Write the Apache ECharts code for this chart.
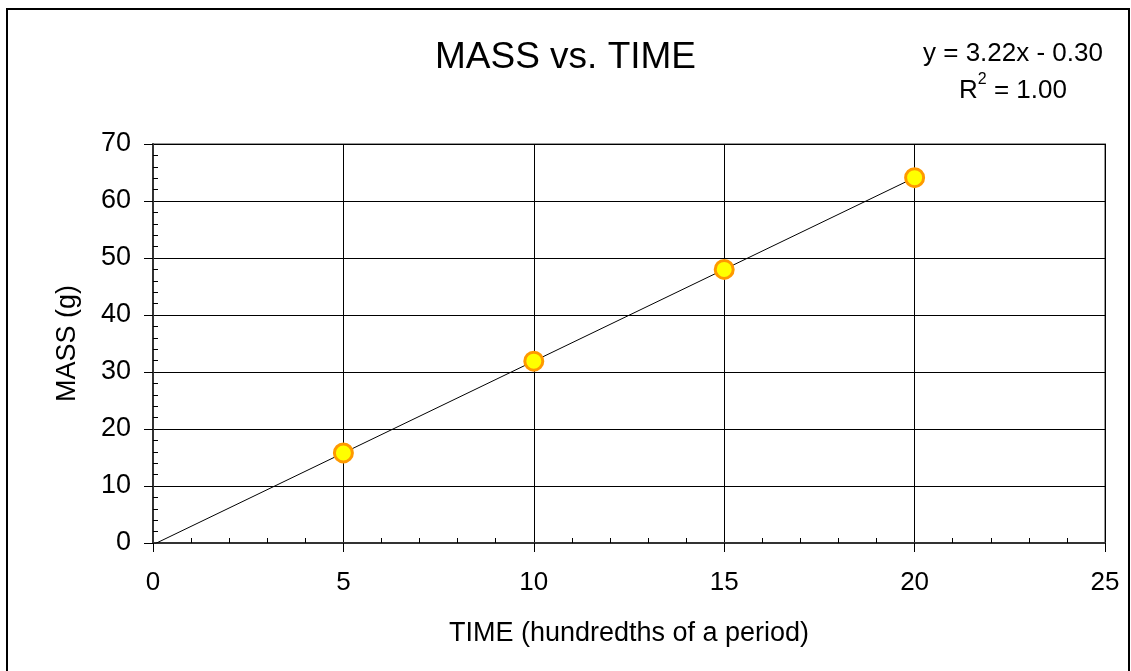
<!DOCTYPE html>
<html>
<head>
<meta charset="utf-8">
<script src="https://cdn.jsdelivr.net/npm/echarts@6/dist/echarts.min.js"></script>
<style>
html,body{margin:0;padding:0;background:#fff;}
#chart{width:1131px;height:671px;}
</style>
</head>
<body>
<div id="chart"></div>
<script>
// Data
const timeValues = [5, 10, 15, 20];
const massValues = [15.8, 31.9, 48.0, 64.1];
// Linear trendline end points (x, y) as shown
const trendX = [0, 20];
const trendY = [-0.30, 64.1];
const chartTitle = 'MASS vs. TIME';
const xAxisName = 'TIME (hundredths of a period)';
const yAxisName = 'MASS (g)';
const eqLine = 'y = 3.22x - 0.30';
const r2Value = '1.00';

const FONT = '"Liberation Sans", Arial, sans-serif';

const chart = echarts.init(document.getElementById('chart'));
const option = {
  backgroundColor: '#fff',
  animation: false,
  title: {
    text: chartTitle,
    left: 'center',
    top: 34,
    textStyle: { fontFamily: FONT, fontSize: 37, fontWeight: 'normal', color: '#000' }
  },
  grid: {
    left: 153, right: 26, top: 144, bottom: 128,
    show: true, borderColor: '#999', borderWidth: 2, backgroundColor: 'transparent'
  },
  xAxis: {
    type: 'value', min: 0, max: 25, interval: 5,
    name: xAxisName, nameLocation: 'middle', nameGap: 77,
    nameTextStyle: { fontFamily: FONT, fontSize: 27, color: '#000' },
    axisLine: { show: true, onZero: false, lineStyle: { color: '#333', width: 2 } },
    axisTick: { show: true, inside: false, length: 9, lineStyle: { color: '#000', width: 1 } },
    minorTick: { show: true, splitNumber: 5, length: -5, lineStyle: { color: '#000', width: 1 } },
    axisLabel: { fontFamily: FONT, fontSize: 26, color: '#000', margin: 27 },
    splitLine: { show: true, lineStyle: { color: '#000', width: 1 } }
  },
  yAxis: {
    type: 'value', min: 0, max: 70, interval: 10,
    name: yAxisName, nameLocation: 'middle', nameGap: 72,
    nameTextStyle: { fontFamily: FONT, fontSize: 27, color: '#000' },
    axisLine: { show: true, onZero: false, lineStyle: { color: '#333', width: 2 } },
    axisTick: { show: true, inside: false, length: 9, lineStyle: { color: '#000', width: 1 } },
    minorTick: { show: true, splitNumber: 5, length: -5, lineStyle: { color: '#000', width: 1 } },
    axisLabel: { fontFamily: FONT, fontSize: 27, color: '#000', margin: 22 },
    splitLine: { show: true, lineStyle: { color: '#000', width: 1 } }
  },
  series: [
    {
      type: 'line',
      data: trendX.map((x, i) => [x, trendY[i]]),
      showSymbol: false, symbol: 'none',
      lineStyle: { color: '#000', width: 1 },
      clip: true, z: 2, silent: true
    },
    {
      type: 'scatter',
      data: timeValues.map((x, i) => [x, massValues[i]]),
      symbol: 'circle', symbolSize: 18,
      itemStyle: { color: '#FFFF00', borderColor: '#FF9900', borderWidth: 3, opacity: 1 },
      z: 3
    }
  ],
  graphic: [
    {
      type: 'rect', silent: true, z: 100,
      shape: { x: 7, y: 9, width: 1122, height: 720 },
      style: { fill: 'none', stroke: '#000', lineWidth: 2 }
    },
    {
      type: 'text', silent: true, z: 100,
      x: 1013, y: 35,
      style: {
        text: eqLine + '\n{r|R}{sup|2}{r| = ' + r2Value + '}',
        align: 'center', verticalAlign: 'top',
        fontFamily: FONT, fontSize: 26, fill: '#000', lineHeight: 37,
        rich: {
          r: { fontFamily: FONT, fontSize: 26, lineHeight: 37, fill: '#000' },
          sup: { fontFamily: FONT, fontSize: 16, lineHeight: 37, fill: '#000', verticalAlign: 'top', padding: [0,0,12,0] }
        }
      }
    }
  ]
};
chart.setOption(option);
</script>
</body>
</html>
